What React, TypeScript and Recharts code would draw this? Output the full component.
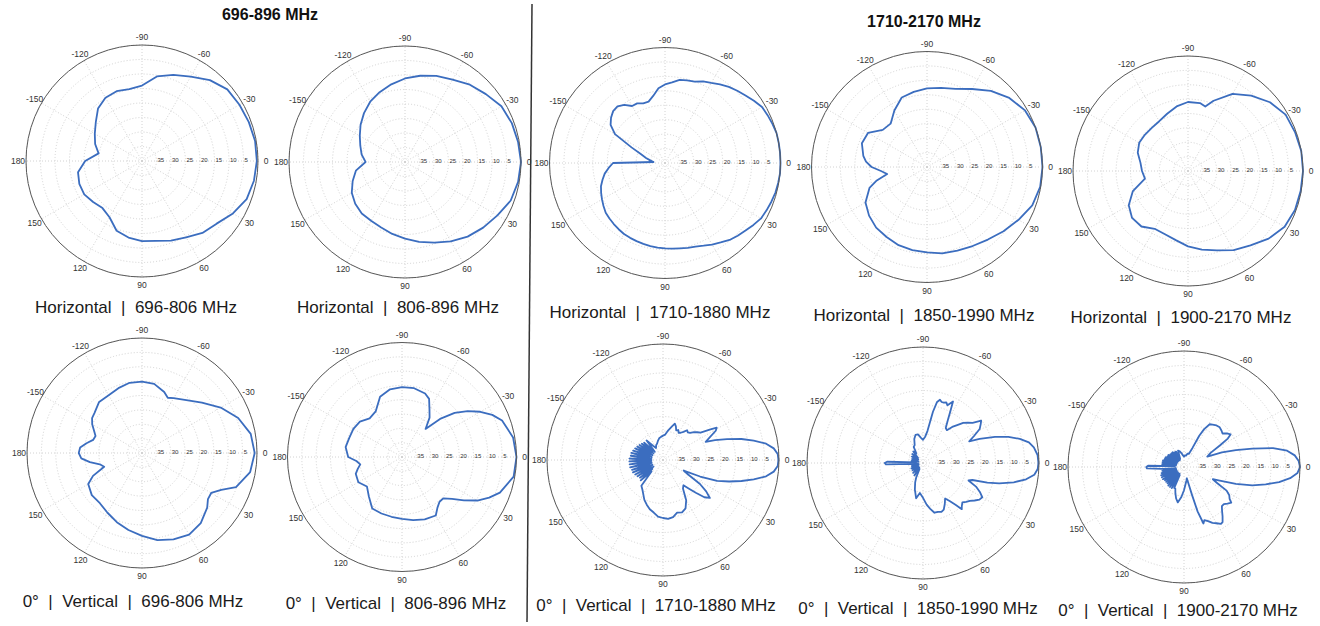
import React from 'react';
import { RadarChart, Radar, PolarGrid, PolarAngleAxis, PolarRadiusAxis } from 'recharts';

// ---- scale: attenuation in dB below peak (0 at rim, 40 at centre) ----
const DB_RANGE = 40;
const ANGLE_TICKS = [0, 30, 60, 90, 120, 150, 180, 210, 240, 270, 300, 330];
const RING_TICKS = [0, 5, 10, 15, 20, 25, 30, 35, 40];

// ---- sampling angles (deg, clockwise from 0 at right, -90 at top) ----
const ANG_10 = [0, 10, 20, 30, 40, 50, 60, 70, 80, 90, 100, 110, 120, 130, 140, 150, 160, 170, 180,
  -170, -160, -150, -140, -130, -120, -110, -100, -90, -80, -70, -60, -50, -40, -30, -20, -10];
const ANG_5 = [0, 5, 10, 15, 20, 25, 30, 35, 40, 45, 50, 55, 60, 65, 70, 75, 80, 85, 90, 95, 100, 105, 110,
  115, 120, 125, 130, 135, 140, 145, 150, 155, 160, 165, 170, 175, 180,
  -175, -170, -165, -160, -155, -150, -145, -140, -135, -130, -125, -120, -115, -110, -105, -100, -95, -90,
  -85, -80, -75, -70, -65, -60, -55, -50, -45, -40, -35, -30, -25, -20, -15, -10, -5];

// ---- Horizontal 696-806 MHz ----
const DB_H696 = [0.4, 0.8, 1.6, 3.8, 6.4, 7.6, 9.6, 10.8, 12, 12.4, 13.2, 14.4, 17.6, 18.8, 18, 17, 17, 17.6, 20.4,
  24.8, 22.8, 21.2, 19.2, 16.4, 14.8, 14.4, 14.8, 14, 10.4, 8.4, 6.4, 3.6, 1.6, 1.2, 0.8, 0.4];

// ---- Horizontal 806-896 MHz ----
const DB_H806 = [0, 0.4, 1.2, 3.2, 4.8, 6.4, 8.4, 10.4, 12, 13.6, 14.8, 16, 16.6, 16.8, 17.6, 18.8, 20.8, 22.8, 26.4,
  24.8, 23.6, 22, 20, 18, 16, 14.4, 12.8, 11.2, 9.8, 8.4, 7.2, 5.2, 3.6, 1.6, 0.8, 0.4];

// ---- Horizontal 1710-1880 MHz ----
const DB_H1710 = [0, 0, 0.2, 0.4, 0.8, 1.2, 1.6, 2.6, 3.6, 4.4, 5.2, 6.4, 7.4, 8.4, 9.2, 9.6, 10, 10.2, 10.4, 10.6,
  10.8, 11, 11.2, 11.4, 11.6, 12, 12.4, 12.8, 13.2, 14, 14.8, 15.6, 16.4, 17.6, 18.8, 20.4, 22,
  36, 34.8, 33.2, 31.2, 27.2, 20, 17, 15.6, 14.6, 14.4, 15.4, 17.2, 17.2, 18, 18, 16.4, 14, 12.8, 12, 10.8,
  10.4, 10, 8.8, 8, 6.8, 5.6, 4.6, 3.6, 2.4, 1.2, 0.8, 0.4, 0, 0, 0];

// ---- Horizontal 1850-1990 MHz ----
const ANG_H1850 = [0, 10, 20, 30, 40, 50, 60, 70, 80, 90, 100, 110, 120, 130, 140, 150, 160, 165, 170, 175, 180,
  -175, -170, -160, -150, -140, -130, -120, -110, -100, -90, -80, -70, -60, -50, -40, -30, -20, -10];
const DB_H1850 = [0, 0.2, 1.2, 3.4, 5.4, 7.2, 8.4, 9.2, 9.6, 10.4, 10.8, 11.2, 12, 12.6, 13.8, 15.4, 18.8, 22, 26, 24, 20.8,
  18.8, 17.6, 16, 16.4, 20, 20.4, 17.4, 14.4, 13.6, 12.8, 12.2, 11.2, 8.8, 5.6, 2.8, 0.8, 0, 0];

// ---- Horizontal 1900-2170 MHz ----
const ANG_H1900 = [0, 10, 20, 30, 40, 50, 60, 70, 80, 90, 100, 110, 120, 130, 140, 150, 160, 170, 180,
  -170, -160, -150, -140, -130, -120, -110, -100, -90, -80, -75, -70, -60, -50, -40, -30, -20, -10];
const DB_H1900 = [0, 0.2, 0.4, 1.2, 3.4, 6.2, 8.2, 10.6, 12.2, 13.8, 15.6, 16.6, 16.8, 14.8, 14.6, 16.2, 19.6, 24.8, 24,
  23.2, 21.4, 20.4, 20.4, 20.4, 20, 18.8, 17.2, 16, 16, 16.8, 14, 9, 5.8, 2.8, 0.8, 0.4, 0];

// ---- 0° Vertical 696-806 MHz ----
const ANG_V696 = [0, 10, 20, 25, 30, 35, 40, 50, 60, 70, 80, 90, 100, 110, 120, 130, 140, 150, 155, 160, 165, 170, 175, 180,
  -175, -170, -165, -160, -155, -150, -145, -140, -130, -120, -110, -100, -90, -80, -70, -65, -60, -50, -40, -30, -20, -10];
const DB_V696 = [0.8, 1.8, 5.2, 9.6, 12.2, 12, 10.4, 8.2, 7.2, 8, 9.2, 11.2, 12.8, 14.4, 16, 17.2, 17.2, 18.4, 21.2, 26, 24.8, 21.6, 18.8, 18,
  18.4, 20.4, 22.4, 22.8, 21.6, 20, 18.8, 18.4, 16.8, 16.8, 16, 15.2, 15.2, 15.6, 17.4, 18.8, 18, 16, 12.8, 8.4, 4.4, 1.6];

// ---- 0° Vertical 806-896 MHz ----
const ANG_V806 = [0, 10, 20, 25, 30, 35, 40, 45, 50, 55, 60, 70, 80, 90, 100, 110, 120, 130, 140, 150, 160, 165, 170, 175, 180,
  -170, -160, -150, -140, -130, -120, -110, -100, -90, -80, -70, -65, -60, -55, -50, -45, -40, -35, -30, -25, -20, -10];
const DB_V806 = [0, 0.4, 3.6, 6.4, 9.6, 13.6, 17.2, 19.6, 19.6, 18.4, 16.4, 16.8, 17.6, 18.4, 18.8, 19, 19.2, 22, 24, 22.4, 22.8, 24, 25.2, 24, 21.2,
  20, 20.4, 20.4, 20.8, 22.4, 21.6, 17.6, 16, 15.6, 15.6, 16.4, 17.6, 20.8, 23.2, 27.2, 21.2, 16, 12, 8.4, 5.2, 2.8, 0.6];

// ---- 0° Vertical 1710-1880 MHz ----
const ANG_V1710 = [0, 3, 6, 9, 12, 15, 18, 21, 24, 27, 30, 33, 36, 39, 42, 45, 48, 51, 55, 60, 65, 70, 75, 80, 85, 90, 95, 100,
  105, 110, 115, 120, 125, 130,
  135, 137.5, 140, 142.5, 145, 147.5, 150, 152.5, 155, 157.5, 160, 162.5, 165, 167.5, 170, 172.5, 175, 177.5, 180,
  -177.5, -175, -172.5, -170, -167.5, -165, -162.5, -160, -157.5, -155, -152.5, -150, -147.5, -145, -142.5, -140, -137.5, -135,
  -130, -125, -120, -115, -110, -105, -100, -95, -90, -85, -80, -75,
  -72, -69, -66, -63, -60, -57, -54, -51, -48, -45, -42, -39, -36, -33, -31, -29, -26, -23, -21, -18, -15, -12, -9, -6, -3];
const DB_V1710 = [0.2, 0.4, 1.6, 4, 8, 12, 16, 20, 26, 32, 30, 24.8, 21.6, 19.2, 20.8, 24, 26.8, 28.8, 28, 24, 21.6, 20.8, 21.2, 20, 19.6, 20, 20.4, 21.6,
  22.4, 23.6, 24.8, 26.4, 27.6, 28.4,
  34.4, 29.6, 35.2, 30, 36, 29.6, 35.2, 29.2, 36, 28.8, 35.2, 28.8, 36, 28.4, 35.2, 28.4, 36, 28.4, 35.6,
  28.4, 36, 28.8, 35.2, 28.8, 36, 29.2, 35.2, 29.6, 36, 30, 35.2, 30.4, 36, 30.8, 35.2, 31.2, 36,
  31.2, 34, 35.2, 34.4, 34, 33.2, 32.4, 32, 31.6, 31.2, 29.6, 28,
  26.8, 27.6, 28.8, 28.4, 29.2, 28.8, 28, 26.8, 27.2, 26.8, 25.6, 24.8, 24, 20.8, 18.4, 19.2, 22, 24, 20.8, 16.8, 12, 8, 4, 1.6, 0.4];

// ---- 0° Vertical 1850-1990 MHz ----
const ANG_V1850 = [0, 3, 6, 9, 12, 15, 17, 19, 21, 24, 27, 30, 33, 36, 39, 42, 45, 48, 50, 52, 55, 58, 62, 66, 69, 73, 77, 81, 85, 90,
  96, 101, 104, 107, 112, 115, 120, 125, 130, 135, 140, 145, 150, 155, 160, 165, 170, 175, 178, 180,
  -178, -175, -170, -165, -160, -155, -150, -145, -140, -135, -130, -125, -120, -115, -110, -105, -100, -95, -90, -85,
  -82, -79, -77, -75, -73, -71, -69, -67, -64, -62, -60, -57, -54, -51, -48, -45, -42, -39, -36, -34,
  -31, -28, -25, -23, -20, -17, -14, -11, -8, -4];
const DB_V1850 = [0.2, 0.4, 1.4, 4, 8, 12.8, 16.8, 22, 23.2, 20, 18, 16.4, 16.8, 18, 19.2, 20, 20.8, 20, 19.2, 21.6, 24, 25.6, 24, 22.4, 22, 22.4, 22.4, 24, 25.6, 28,
  29.6, 27.6, 29.2, 30.4, 32.8, 34.4, 37.6, 34.8, 38, 35.2, 38, 35.6, 38, 35.6, 38.4, 36, 38.4, 36.8, 27.2, 26.8,
  27.6, 37.6, 36, 38.4, 36, 38, 35.6, 38, 35.2, 37.6, 34.8, 36, 33.6, 33.2, 31.2, 30, 30, 31.2, 32, 30.8,
  28.8, 22, 18.4, 17.4, 18, 18, 17.6, 18.4, 16.4, 20, 22.8, 25.6, 26, 24, 22.4, 20.4, 19.2, 18, 15.2, 16,
  17.2, 20, 22.4, 18.8, 13.6, 9.2, 5.6, 2.8, 1.4, 0.4];

// ---- 0° Vertical 1900-2170 MHz ----
const ANG_V1900 = [0, 3, 6, 9, 12, 15, 18, 21, 23, 26, 29, 32, 35, 37, 40, 43, 46, 49, 52, 55, 57, 60, 63, 66, 69, 71, 73, 74, 76, 80,
  85, 90, 95, 100, 104, 108, 112,
  115, 117.5, 120, 122.5, 125, 127.5, 130, 132.5, 135, 137.5, 140, 142.5, 145, 147.5, 150, 152.5, 155, 157.5, 160, 162.5,
  165, 167.5, 170, 172.5, 175, 178, 180,
  -178, -175, -172.5, -170, -167.5, -165, -162.5, -160, -157.5, -155, -152.5, -150, -147.5, -145, -142.5, -140, -137.5, -135,
  -132.5, -130, -127.5, -125, -122.5, -120, -117.5, -115,
  -110, -105, -100, -95, -90, -85, -80, -75, -70, -66, -64, -62, -59, -56, -52, -48, -44, -41, -38, -35,
  -33, -31, -28, -24, -21, -18, -15, -12, -9, -6, -3];
const DB_V1900 = [0, 0.8, 3.2, 6.8, 11.2, 15.6, 21.2, 26.8, 29.2, 27.2, 23.2, 21.6, 20.8, 19.6, 20.4, 21.2, 21.2, 20, 18.4, 16.8,
  16.6, 17.6, 18.4, 19.6, 20.4, 19.4, 24, 30, 36, 35.2, 34, 32, 29.6, 27.6, 28.8, 30.4, 32,
  32, 36.8, 31.6, 37.2, 31.6, 36.8, 31.6, 37.2, 32, 36.8, 32, 37.2, 32, 36.8, 31.6, 37.2, 31.6, 36.8, 31.6, 37.2,
  32, 36.8, 32.4, 37.2, 32.4, 27.2, 27,
  27.6, 36.8, 32.4, 37.2, 32.4, 36.8, 32.4, 37.2, 32.8, 36.8, 32.8, 37.2, 33.2, 36.8, 33.2, 37.2, 33.6, 36.8,
  33.6, 37.2, 33.6, 36.8, 34, 37.2, 34, 36.8,
  34, 34.4, 35.2, 36, 36.4, 36, 36, 35.2, 35.2, 32.8, 28, 25.2, 22.8, 22.4, 21.8, 21.6, 22, 22.4, 21.2, 20.4,
  22, 25.6, 29.6, 31.2, 26, 21.2, 15.6, 8.6, 4, 1.6, 0.4];

const FONT = '"Liberation Sans", Arial, Helvetica, sans-serif';

type PanelDef = {
  id: string; angles: number[]; db: number[];
  cx: number; cy: number; r: number;
  caption: string; capX: number; capY: number;
};

const PANELS: PanelDef[] = [
  { id: 'h696', angles: ANG_10, db: DB_H696, cx: 142, cy: 161, r: 116, caption: 'Horizontal  |  696-806 MHz', capX: 136, capY: 308 },
  { id: 'h806', angles: ANG_10, db: DB_H806, cx: 405, cy: 162, r: 116, caption: 'Horizontal  |  806-896 MHz', capX: 398, capY: 308 },
  { id: 'h1710', angles: ANG_5, db: DB_H1710, cx: 665, cy: 163, r: 115.5, caption: 'Horizontal  |  1710-1880 MHz', capX: 660, capY: 313 },
  { id: 'h1850', angles: ANG_H1850, db: DB_H1850, cx: 927, cy: 167, r: 115.5, caption: 'Horizontal  |  1850-1990 MHz', capX: 924, capY: 316 },
  { id: 'h1900', angles: ANG_H1900, db: DB_H1900, cx: 1188, cy: 171, r: 115, caption: 'Horizontal  |  1900-2170 MHz', capX: 1181, capY: 318 },
  { id: 'v696', angles: ANG_V696, db: DB_V696, cx: 142, cy: 453, r: 115, caption: '0°  |  Vertical  |  696-806 MHz', capX: 133, capY: 602 },
  { id: 'v806', angles: ANG_V806, db: DB_V806, cx: 402, cy: 457, r: 114.5, caption: '0°  |  Vertical  |  806-896 MHz', capX: 396, capY: 604 },
  { id: 'v1710', angles: ANG_V1710, db: DB_V1710, cx: 663, cy: 460, r: 116, caption: '0°  |  Vertical  |  1710-1880 MHz', capX: 656, capY: 606 },
  { id: 'v1850', angles: ANG_V1850, db: DB_V1850, cx: 923, cy: 463, r: 116, caption: '0°  |  Vertical  |  1850-1990 MHz', capX: 918, capY: 609 },
  { id: 'v1900', angles: ANG_V1900, db: DB_V1900, cx: 1184, cy: 467, r: 116, caption: '0°  |  Vertical  |  1900-2170 MHz', capX: 1178, capY: 611 },
];

function AngleTick(props: any) {
  const { x, y, payload } = props;
  const v = Number(payload?.value);
  const label = v > 180 ? v - 360 : v;
  return (
    <text x={x} y={y} textAnchor="middle" dominantBaseline="central" fontSize={8.5} fill="#333" fontFamily={FONT}>
      {label}
    </text>
  );
}

function RingTick(props: any) {
  const { x, y, payload } = props;
  const v = Number(payload?.value);
  if (!(v > 0 && v < DB_RANGE)) return <g />;
  return (
    <text x={x + 1} y={y - 1} textAnchor="start" dominantBaseline="central" fontSize={6} fill="#333" fontFamily={FONT}>
      {DB_RANGE - v}
    </text>
  );
}

const level = (d: { db: number }) => DB_RANGE - d.db;

function PolarPanel({ p }: { p: PanelDef }) {
  const rows = p.angles
    .map((a, i) => ({ ang: (a + 360) % 360, db: p.db[i] }))
    .sort((a, b) => a.ang - b.ang);
  const S = 290;
  return (
    <div style={{ position: 'absolute', left: p.cx - S / 2, top: p.cy - S / 2, width: S, height: S }}>
      <RadarChart
        width={S}
        height={S}
        cx={S / 2}
        cy={S / 2}
        outerRadius={p.r}
        innerRadius={0}
        startAngle={0}
        endAngle={-360}
        data={rows}
        margin={{ top: 0, right: 0, bottom: 0, left: 0 }}
      >
        <PolarGrid gridType="circle" stroke="#d2d2d2" strokeDasharray="1 2" />
        <PolarAngleAxis
          dataKey="ang"
          type="number"
          domain={[0, 360]}
          ticks={ANGLE_TICKS as any}
          tick={AngleTick}
          tickLine={false}
          tickSize={8}
          axisLine={{ stroke: '#5a5a5a', strokeWidth: 1 }}
          axisLineType="circle"
        />
        <PolarRadiusAxis
          angle={0}
          type="number"
          domain={[0, DB_RANGE]}
          ticks={RING_TICKS as any}
          tickCount={9}
          tick={RingTick}
          axisLine={false}
          tickLine={false}
        />
        <Radar
          dataKey={level as any}
          stroke="#3b6dbf"
          strokeWidth={1.8}
          strokeLinejoin="round"
          fill="none"
          fillOpacity={0}
          dot={false}
          isAnimationActive={false}
        />
      </RadarChart>
    </div>
  );
}

export default function App() {
  return (
    <div style={{ position: 'absolute', left: 0, top: 0, width: 1320, height: 626, background: '#fff', overflow: 'hidden', fontFamily: FONT }}>
      <svg width={1320} height={626} style={{ position: 'absolute', left: 0, top: 0 }}>
        <line x1={532} y1={4} x2={527} y2={622} stroke="#333" strokeWidth={1.5} />
      </svg>
      {PANELS.map((p) => (
        <PolarPanel key={p.id} p={p} />
      ))}
      <div style={{ position: 'absolute', left: 170, top: 5, width: 200, textAlign: 'center', fontWeight: 'bold', fontSize: 16, lineHeight: '20px', color: '#111' }}>
        696-896 MHz
      </div>
      <div style={{ position: 'absolute', left: 824, top: 12, width: 200, textAlign: 'center', fontWeight: 'bold', fontSize: 16, lineHeight: '20px', color: '#111' }}>
        1710-2170 MHz
      </div>
      {PANELS.map((p) => (
        <div
          key={p.id + '-cap'}
          style={{ position: 'absolute', left: p.capX - 160, top: p.capY - 11, width: 320, textAlign: 'center', fontSize: 17, lineHeight: '22px', whiteSpace: 'pre', color: '#1a1a1a' }}
        >
          {p.caption}
        </div>
      ))}
    </div>
  );
}
